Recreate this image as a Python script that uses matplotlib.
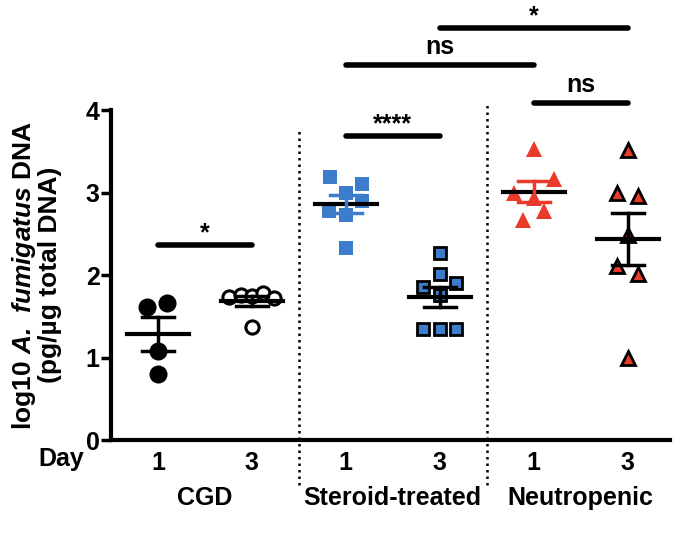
import numpy as np
import matplotlib
matplotlib.use('Agg')
import matplotlib.pyplot as plt

plt.rcParams['font.family'] = ['Liberation Sans', 'DejaVu Sans']
plt.rcParams['font.weight'] = 'bold'
plt.rcParams['mathtext.fontset'] = 'custom'
plt.rcParams['mathtext.bfit'] = 'Liberation Sans:italic:bold'

# 数据：每组的 log10 值
cgd_d1 = [1.61, 1.66, 1.08, 0.80]
cgd_d3 = [1.73, 1.76, 1.75, 1.78, 1.72, 1.37]
ster_d1 = [3.19, 3.10, 2.99, 2.90, 2.78, 2.73, 2.33]
ster_d3 = [2.27, 2.01, 1.85, 1.90, 1.76, 1.35, 1.35, 1.35]
neut_d1 = [3.53, 3.16, 2.99, 2.93, 2.78, 2.67]
neut_d3 = [3.52, 2.99, 2.96, 2.48, 2.11, 2.01, 0.99]

# 点的水平散开量
cgd_d1_dx = [-0.12, 0.10, 0, 0]
cgd_d3_dx = [-0.24, -0.12, 0, 0.12, 0.24, 0]
ster_d1_dx = [-0.17, 0.17, 0, 0.17, -0.18, 0, 0]
ster_d3_dx = [0, 0, -0.18, 0.17, 0, -0.18, 0, 0.17]
neut_d1_dx = [0, 0.22, -0.21, 0, 0.11, -0.11]
neut_d3_dx = [0, -0.11, 0.11, 0, -0.11, 0.11, 0]

day_labels = ['1', '3', '1', '3', '1', '3']
group_names = ['CGD', 'Steroid-treated', 'Neutropenic']

# 显著性标记：(起点组, 终点组, 高度, 文本)
sig_pairs = [(0, 1, 2.36, '*'), (2, 3, 3.68, '****'), (2, 4, 4.54, 'ns'),
             (4, 5, 4.08, 'ns'), (3, 5, 4.99, '*')]

blue = '#3B7DCB'
red = '#EA3A2C'

groups = [
    (cgd_d1, cgd_d1_dx, dict(marker='o', ms=13, mfc='black', mec='black', mew=0), 'black'),
    (cgd_d3, cgd_d3_dx, dict(marker='o', ms=9.5, mfc='white', mec='black', mew=2.2), 'black'),
    (ster_d1, ster_d1_dx, dict(marker='s', ms=10.5, mfc=blue, mec=blue, mew=0), blue),
    (ster_d3, ster_d3_dx, dict(marker='s', ms=9, mfc=blue, mec='black', mew=2), 'black'),
    (neut_d1, neut_d1_dx, dict(marker='^', ms=11.5, mfc=red, mec=red, mew=0), red),
    (neut_d3, neut_d3_dx, dict(marker='^', ms=10, mfc=red, mec='black', mew=2), 'black'),
]

fig = plt.figure(figsize=(6.75, 5.49), dpi=100)
ax = fig.add_axes([0.1644, 0.1985, 0.8282, 0.6011])

for i, (vals, dx, style, errc) in enumerate(groups):
    vals = np.array(vals)
    xs = i + np.array(dx)
    ax.plot(xs, vals, ls='none', zorder=3, clip_on=False, **style)
    m = vals.mean()
    sem = vals.std(ddof=1) / np.sqrt(len(vals))
    ax.plot([i - 0.33, i + 0.33], [m, m], color='black', lw=3, zorder=4)
    ax.plot([i, i], [m - sem, m + sem], color=errc, lw=2.5, zorder=4)
    for yy in (m - sem, m + sem):
        ax.plot([i - 0.17, i + 0.17], [yy, yy], color=errc, lw=2.5, zorder=4)

# 分隔虚线
ax.plot([1.5, 1.5], [-0.55, 3.78], color='black', ls=(0, (1, 1.6)), lw=1.8, clip_on=False)
ax.plot([3.5, 3.5], [-0.55, 4.10], color='black', ls=(0, (1, 1.6)), lw=1.8, clip_on=False)

for a, b, h, txt in sig_pairs:
    ax.plot([a, b], [h, h], color='black', lw=4, solid_capstyle='round', clip_on=False)
    off = 0.0 if '*' in txt else 0.08
    ax.text((a + b) / 2, h + off, txt, ha='center', va='bottom', fontsize=18, fontweight='bold')

ax.set_xlim(-0.5, 5.45)
ax.set_ylim(0, 4)
ax.set_yticks([0, 1, 2, 3, 4])
ax.set_xticks(range(6))
ax.set_xticklabels(day_labels)
ax.tick_params(axis='x', length=0, pad=8, labelsize=18)
ax.tick_params(axis='y', length=7, width=2.5, labelsize=18, pad=1)
for s in ['top', 'right']:
    ax.spines[s].set_visible(False)
for s in ['left', 'bottom']:
    ax.spines[s].set_linewidth(3)

ax.text(-1.03, -0.23, 'Day', ha='center', va='center', fontsize=18, fontweight='bold')
for k, name in enumerate(group_names):
    ax.text(2 * k + 0.5, -0.7, name, ha='center', va='center', fontsize=18, fontweight='bold')

ax.set_ylabel('log10 $\\mathbfit{A.\\ fumigatus}$ DNA\n(pg/µg total DNA)', fontsize=19,
              fontweight='bold', linespacing=1.0)
ax.yaxis.set_label_coords(-0.088, 0.5)

fig.savefig('out.png', dpi=100)
